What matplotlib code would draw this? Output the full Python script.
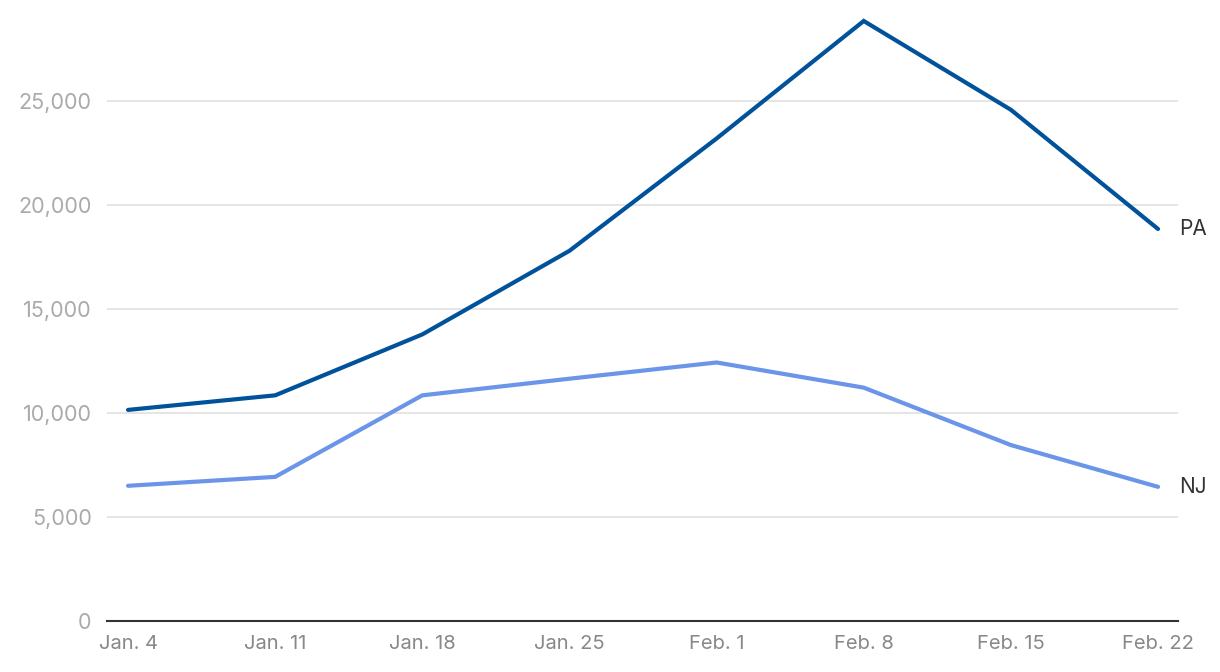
import matplotlib.pyplot as plt

dates = ['Jan. 4', 'Jan. 11', 'Jan. 18', 'Jan. 25', 'Feb. 1', 'Feb. 8', 'Feb. 15', 'Feb. 22']
pa = [10150, 10850, 13780, 17800, 23200, 28850, 24580, 18850]
nj = [6500, 6930, 10850, 11650, 12430, 11220, 8460, 6450]

plt.rcParams['font.family'] = ['Inter', 'DejaVu Sans']

fig = plt.figure(figsize=(12.2, 6.72), dpi=100)
ax = fig.add_axes([0.0877, 0.0759, 0.8779, 0.913])

x = range(len(dates))
ax.plot(x, pa, color='#00529b', lw=3, solid_capstyle='round', solid_joinstyle='miter', zorder=3)
ax.plot(x, nj, color='#6a95e8', lw=3, solid_capstyle='round', solid_joinstyle='miter', zorder=3)

ax.text(7.145, pa[-1], 'PA', ha='left', va='center', fontsize=15, color='#333333', clip_on=False)
ax.text(7.145, nj[-1], 'NJ', ha='left', va='center', fontsize=15, color='#333333', clip_on=False)

ax.set_xlim(-0.143, 7.136)
ax.set_ylim(0, 29500)
ax.set_yticks(range(0, 30000, 5000))
ax.set_yticklabels(['0', '5,000', '10,000', '15,000', '20,000', '25,000'])
ax.set_xticks(list(x))
ax.set_xticklabels(dates)

ax.grid(axis='y', color='#e3e3e3', lw=1.3)
ax.set_axisbelow(True)
for s in ['top', 'right', 'left']:
    ax.spines[s].set_visible(False)
ax.spines['bottom'].set_color('#333333')
ax.spines['bottom'].set_linewidth(1.5)
ax.tick_params(axis='y', length=0, pad=11, labelsize=15.5, labelcolor='#aaaaaa')
ax.tick_params(axis='x', length=0, pad=10, labelsize=14.5, labelcolor='#888888')

fig.savefig('out.png', dpi=100)
